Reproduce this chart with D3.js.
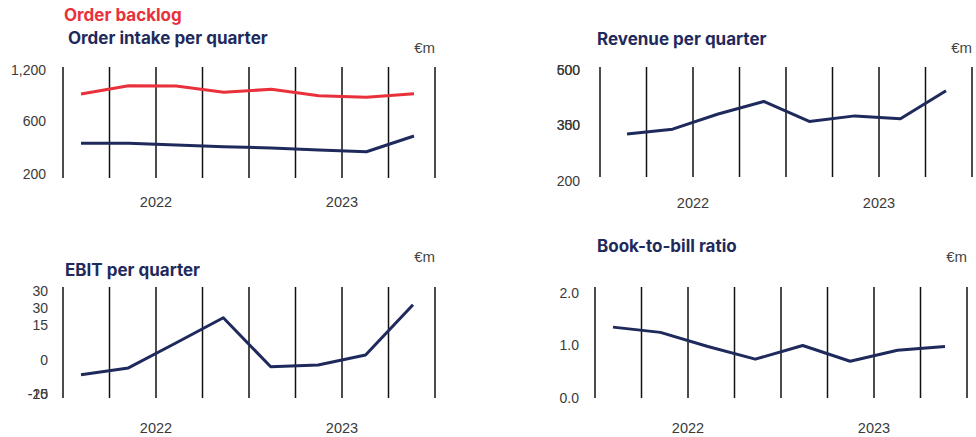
<!DOCTYPE html>
<html>
<head>
<meta charset="utf-8">
<script src="https://cdn.jsdelivr.net/npm/d3@7"></script>
<style>
  body { margin: 0; background: #ffffff; }
  svg text { font-family: "Liberation Sans", Arial, sans-serif; }
</style>
</head>
<body>
<div id="chart"></div>
<script>
// quarters shown in every panel (8 points)
var quarters = ["Q1", "Q2", "Q3", "Q4", "Q5", "Q6", "Q7", "Q8"];
var years = ["2022", "2023"];
var yearGridIndex = [2, 6];

var orderBacklog = [918, 1015, 1012, 938, 973, 897, 879, 921];
var orderIntake = [432, 432, 419, 406, 396, 381, 368, 487];
var revenue = [327, 340, 381, 415, 361, 376, 368, 444];
var ebit = [-6.6, -3.6, 7.3, 18.3, -3.1, -2.3, 2.0, 24.0];
var bookToBill = [1.35, 1.25, 0.98, 0.74, 1.0, 0.7, 0.91, 0.98];

// tick values / labels (some labels in the original are printed on top of each other)
var orderTicks = [200, 600, 1200];
var orderTickLabels = ["200", "600", "1,200"];
var revenueTicks = [200, 350, 500];
var revenueTickLabels = ["200", "350", "500"];
var revenueTicksOver = [350, 500];
var revenueTickLabelsOver = ["300", "600"];
var ebitTicks = [-15, 0, 15, 22.5, 30];
var ebitTickLabels = ["-15", "0", "15", "30", "30"];
var ebitTicksOver = [-15];
var ebitTickLabelsOver = ["-20"];
var btbTicks = [0, 1, 2];
var btbTickLabels = ["0.0", "1.0", "2.0"];

var navy = "#1f2a5c";
var red = "#e8313b";

var svg = d3
  .select("#chart")
  .append("svg")
  .attr("width", 976)
  .attr("height", 437);

function drawPanel(p) {
  var g = svg.append("g");

  var gridScale = d3.scaleLinear().domain([0, 8]).range([p.x0, p.x1]);
  var xScale = d3
    .scalePoint()
    .domain(quarters)
    .range([p.x0 + p.padL, p.x1 - p.padR]);

  // vertical separators
  g.selectAll(".grid")
    .data(d3.range(9))
    .enter()
    .append("line")
    .attr("x1", (d) => gridScale(d))
    .attr("x2", (d) => gridScale(d))
    .attr("y1", p.y0)
    .attr("y2", p.y1)
    .attr("stroke", "#111")
    .attr("stroke-width", 1.5);

  // y tick labels through a d3 axis without domain / tick lines
  function tickAxis(values, labels) {
    var ax = g
      .append("g")
      .attr("transform", "translate(" + p.tickX + ",0)")
      .call(
        d3
          .axisLeft(p.yScale)
          .tickValues(values)
          .tickSize(0)
          .tickPadding(0)
          .tickFormat((d, i) => labels[i]),
      );
    ax.select(".domain").remove();
    ax.selectAll("text")
      .attr("fill", "#3a3a3a")
      .style("font-size", "14px")
      .style("font-family", "'Liberation Sans', Arial, sans-serif");
  }
  tickAxis(p.ticks, p.tickLabels);
  if (p.ticksOver) tickAxis(p.ticksOver, p.tickLabelsOver);

  // year labels
  g.selectAll(".year")
    .data(years)
    .enter()
    .append("text")
    .attr("x", (d, i) => gridScale(yearGridIndex[i]))
    .attr("y", p.yearY)
    .attr("text-anchor", "middle")
    .attr("fill", "#3a3a3a")
    .style("font-size", "14.5px")
    .text((d) => d);

  // unit
  g.append("text")
    .attr("x", p.x1)
    .attr("y", p.unitY)
    .attr("text-anchor", "end")
    .attr("fill", "#444")
    .style("font-size", "15px")
    .text("€m");

  // titles
  p.titles.forEach(function (t) {
    g.append("text")
      .attr("x", t.x)
      .attr("y", t.y)
      .attr("fill", t.color)
      .style("font-family", "Inter, 'Liberation Sans', sans-serif")
      .style("font-size", "17px")
      .style("font-weight", "bold")
      .text(t.text);
  });

  // series lines
  p.series.forEach(function (s) {
    g.append("path")
      .datum(s.values)
      .attr(
        "d",
        d3
          .line()
          .x((d, i) => xScale(quarters[i]))
          .y((d) => p.yScale(d)),
      )
      .attr("fill", "none")
      .attr("stroke", s.color)
      .attr("stroke-width", 3)
      .attr("stroke-linejoin", "round");
  });
}

drawPanel({
  x0: 63, x1: 435, y0: 67, y1: 178, padL: 18, padR: 21,
  yScale: d3.scaleLinear().domain([200, 600, 1200]).range([174, 121, 70]),
  ticks: orderTicks, tickLabels: orderTickLabels, tickX: 46,
  yearY: 207, unitY: 53,
  titles: [
    { text: "Order backlog", x: 64, y: 21, color: red },
    { text: "Order intake per quarter", x: 68, y: 44, color: navy },
  ],
  series: [
    { values: orderBacklog, color: red },
    { values: orderIntake, color: navy },
  ],
});

drawPanel({
  x0: 600, x1: 972, y0: 67, y1: 177, padL: 27, padR: 26,
  yScale: d3.scaleLinear().domain([200, 500]).range([181, 70]),
  ticks: revenueTicks, tickLabels: revenueTickLabels,
  ticksOver: revenueTicksOver, tickLabelsOver: revenueTickLabelsOver,
  tickX: 580,
  yearY: 208, unitY: 53,
  titles: [{ text: "Revenue per quarter", x: 597, y: 45, color: navy }],
  series: [{ values: revenue, color: navy }],
});

drawPanel({
  x0: 63, x1: 435, y0: 287, y1: 398, padL: 18, padR: 22,
  yScale: d3.scaleLinear().domain([-15, 30]).range([394, 291]),
  ticks: ebitTicks, tickLabels: ebitTickLabels,
  ticksOver: ebitTicksOver, tickLabelsOver: ebitTickLabelsOver,
  tickX: 48,
  yearY: 433, unitY: 262,
  titles: [{ text: "EBIT per quarter", x: 65, y: 276, color: navy }],
  series: [{ values: ebit, color: navy }],
});

drawPanel({
  x0: 595, x1: 967, y0: 287, y1: 398, padL: 18, padR: 22,
  yScale: d3.scaleLinear().domain([0, 2]).range([398, 293]),
  ticks: btbTicks, tickLabels: btbTickLabels, tickX: 579,
  yearY: 433, unitY: 262,
  titles: [{ text: "Book-to-bill ratio", x: 597, y: 252, color: navy }],
  series: [{ values: bookToBill, color: navy }],
});
</script>
</body>
</html>
